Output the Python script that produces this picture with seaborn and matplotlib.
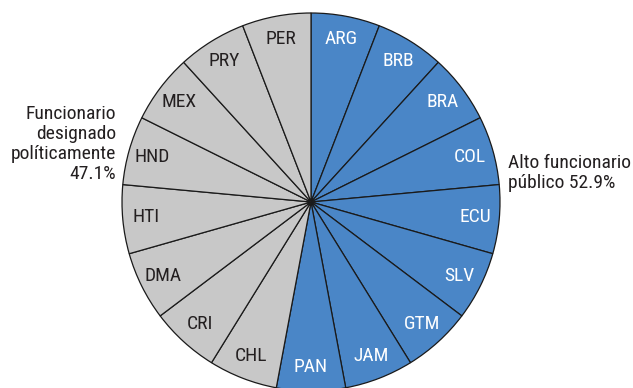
import matplotlib
matplotlib.use("Agg")
import matplotlib.pyplot as plt
import seaborn as sns
from matplotlib import font_manager

sns.set_theme(style="white")

fonts = font_manager.fontManager.ttflist
names = {f.name for f in fonts}
stretch = "normal"
if "Liberation Sans Narrow" in names:
    main = "Liberation Sans Narrow"
elif "Roboto Condensed" in names:
    main = "Roboto Condensed"
else:
    main = "DejaVu Sans"
    stretch = "condensed"
plt.rcParams["font.family"] = [main, "DejaVu Sans"]
plt.rcParams["font.stretch"] = stretch

# Data (clockwise from top)
countries = ["ARG", "BRB", "BRA", "COL", "ECU", "SLV", "GTM", "JAM", "PAN",
             "CHL", "CRI", "DMA", "HTI", "HND", "MEX", "PRY", "PER"]
groups = ["alto"] * 9 + ["designado"] * 8
values = [1] * 17
group_labels = {"alto": "Alto funcionario\npúblico 52.9%",
                "designado": "Funcionario\ndesignado\npolíticamente\n47.1%"}

palette = {"alto": "#4a86c7", "designado": "#c8c8c8"}
text_col = {"alto": "white", "designado": "#231f20"}

fig = plt.figure(figsize=(6.33, 3.88), dpi=100)
ax = fig.add_axes([0, 0, 1, 1])

wedges, texts = ax.pie(values, labels=countries, startangle=90, counterclock=False,
                       colors=[palette[g] for g in groups], labeldistance=0.875,
                       wedgeprops=dict(edgecolor="#1a1a1a", linewidth=0.9),
                       textprops=dict(fontsize=14, ha="center", va="center",
                                      stretch=stretch))
for t, g in zip(texts, groups):
    t.set_color(text_col[g])
    t.set_horizontalalignment("center")

ax.set_xlim(-311 / 189, (633 - 311) / 189)
ax.set_ylim(-186 / 189, 202 / 189)
ax.set_aspect("auto")
ax.axis("off")

ax.text(-1.032, 0.307, group_labels["designado"], ha="right", va="center",
        fontsize=14, color="#231f20", linespacing=1.15, stretch=stretch)
ax.text(1.042, 0.153, group_labels["alto"], ha="left", va="center",
        fontsize=14, color="#231f20", linespacing=1.15, stretch=stretch)

fig.savefig("out.png", dpi=100)
